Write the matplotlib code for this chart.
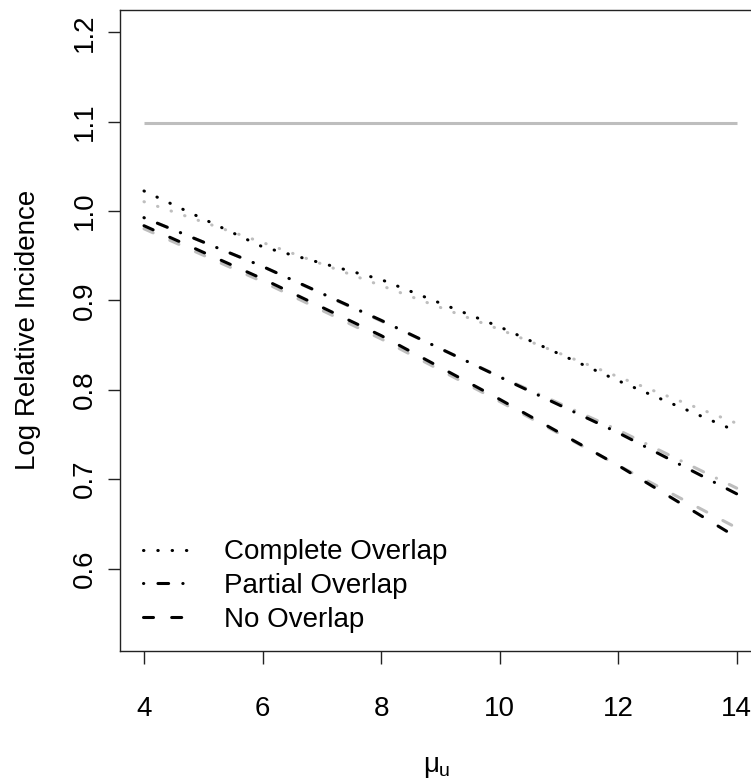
import numpy as np
import matplotlib
matplotlib.use("Agg")
import matplotlib.pyplot as plt

plt.rcParams['font.family'] = ['Liberation Sans', 'DejaVu Sans']
plt.rcParams['mathtext.fontset'] = 'custom'
plt.rcParams['mathtext.rm'] = 'Liberation Sans'
plt.rcParams['mathtext.it'] = 'Liberation Sans'
plt.rcParams['mathtext.bf'] = 'Liberation Sans:bold'
plt.rcParams['lines.scale_dashes'] = False

# ---- data ----
mu_u = [4, 6, 8, 10, 12, 14]
complete_black = [1.0225, 0.960, 0.9234, 0.8705, 0.8102, 0.7536]
complete_gray = [1.0105, 0.9649, 0.9167, 0.8676, 0.8146, 0.7625]
partial_black = [0.9926, 0.9381, 0.8778, 0.8144, 0.752, 0.6836]
partial_gray = [0.9926, 0.938, 0.877, 0.815, 0.755, 0.690]
none_black = [0.9836, 0.9242, 0.8607, 0.7894, 0.7154, 0.6349]
none_gray = [0.9802, 0.921, 0.857, 0.787, 0.7154, 0.6456]
reference_x = [4, 14]
reference_y = [1.0986, 1.0986]
labels = ["Complete Overlap", "Partial Overlap", "No Overlap"]
xticks = [4, 6, 8, 10, 12, 14]
yticks = [0.6, 0.7, 0.8, 0.9, 1.0, 1.1, 1.2]
ytick_labels = ["0.6", "0.7", "0.8", "0.9", "1.0", "1.1", "1.2"]

W, H = 751, 781
fig = plt.figure(figsize=(W / 100, H / 100), dpi=100)
left_px, right_px, top_px, bot_px = 120, 760.7, 10, 650.5
ax = fig.add_axes([left_px / W, (H - bot_px) / H, (right_px - left_px) / W, (bot_px - top_px) / H])

GRAY = '#BEBEBE'
LW = 2.2
dotted = (0, (0.3, 10.0))
dotdash = (0, (0.2, 10.2, 7.7, 10.2))
dashed = (0, (7.2, 13.1))

ax.plot(reference_x, reference_y, color=GRAY, lw=LW, solid_capstyle='butt')
ax.plot(mu_u, complete_gray, color=GRAY, lw=LW, ls=dotted, dash_capstyle='round')
ax.plot(mu_u, partial_gray, color=GRAY, lw=LW, ls=dotdash, dash_capstyle='round')
ax.plot(mu_u, none_gray, color=GRAY, lw=LW, ls=dashed, dash_capstyle='round')
h1, = ax.plot(mu_u, complete_black, color='black', lw=LW, ls=dotted, dash_capstyle='round')
h2, = ax.plot(mu_u, partial_black, color='black', lw=LW, ls=dotdash, dash_capstyle='round')
h3, = ax.plot(mu_u, none_black, color='black', lw=LW, ls=dashed, dash_capstyle='round')

ax.set_xlim(3.595, 14.405)
ax.set_ylim(0.5083, 1.225)

for s in ax.spines.values():
    s.set_linewidth(1.0)
    s.set_color('#222222')

ax.set_xticks(xticks)
ax.set_xticklabels([str(v) for v in xticks])
ax.set_yticks(yticks)
ax.set_yticklabels(ytick_labels, rotation=90, va='center')
ax.tick_params(axis='both', direction='out', length=9, width=1.0, color='#222222',
               labelsize=20)
ax.tick_params(axis='x', pad=24)
ax.tick_params(axis='y', pad=7)

leg = ax.legend([h1, h2, h3], labels, loc='lower left',
                bbox_to_anchor=(0.0359, 0.0276), frameon=False, fontsize=20,
                handlelength=1.62, handletextpad=1.3, labelspacing=0.28,
                borderpad=0, borderaxespad=0)

fig.text(28 / W, 1 - 330 / H, "Log Relative Incidence", rotation=90,
         ha='center', va='center', fontsize=20)
fig.text(437 / W, 1 - 767 / H, r'$\mu_\mathregular{u}$', ha='center', va='center', fontsize=20)

fig.savefig("out.png", dpi=100)
